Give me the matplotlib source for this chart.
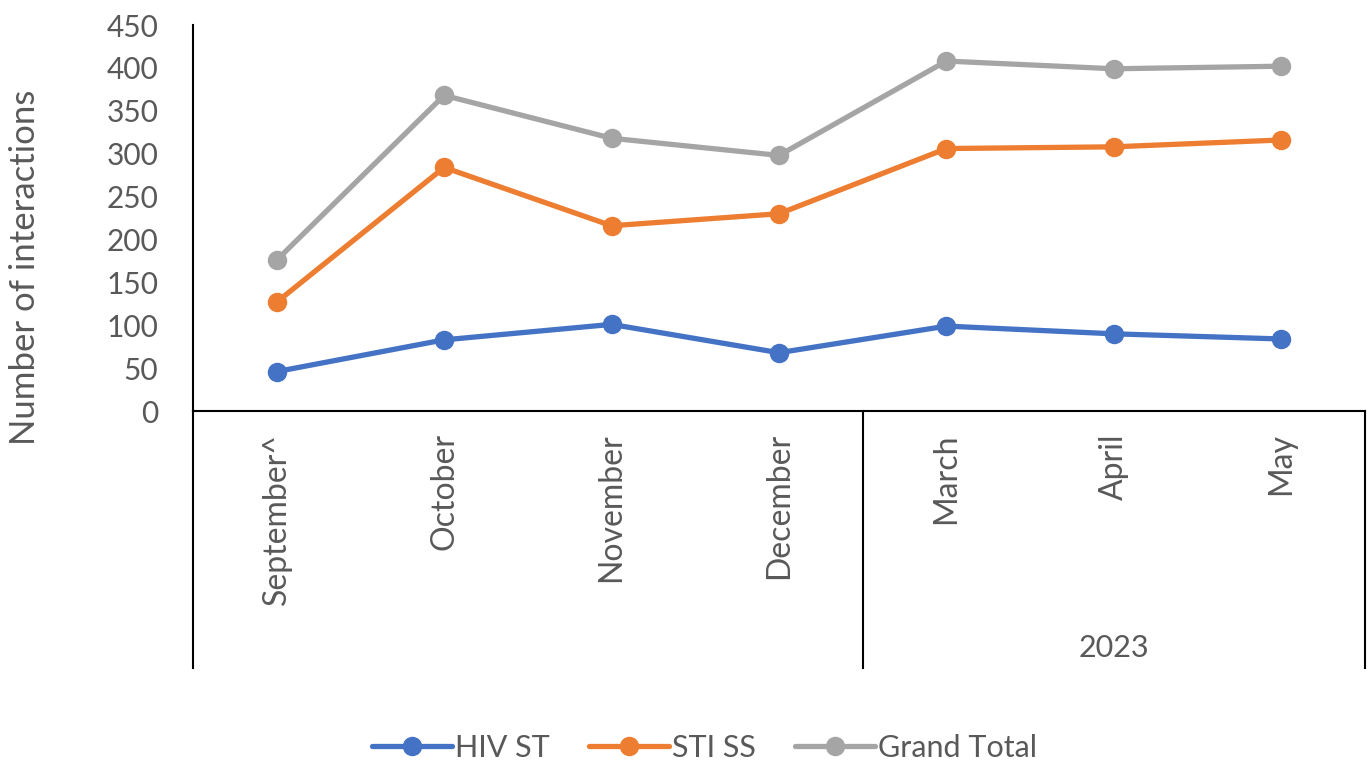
import matplotlib
matplotlib.use("Agg")
import matplotlib.pyplot as plt
from matplotlib.lines import Line2D

plt.rcParams['font.family'] = ['Lato', 'DejaVu Sans']

months = ['September^', 'October', 'November', 'December', 'March', 'April', 'May']
hiv_st = [46, 83, 101, 68, 99, 90, 84]
sti_ss = [127, 284, 216, 230, 306, 308, 316]
grand_total = [176, 368, 318, 298, 408, 399, 402]
year_groups = [('', 0, 3), ('2023', 4, 6)]

colors = {'HIV ST': '#4472C4', 'STI SS': '#ED7D31', 'Grand Total': '#A5A5A5'}
text_col = '#595959'

fig = plt.figure(figsize=(13.68, 7.63), dpi=100)
ax = fig.add_axes([0.1411, 0.4613, 0.8567, 0.5059])

x = list(range(len(months)))
for name, vals in [('HIV ST', hiv_st), ('STI SS', sti_ss), ('Grand Total', grand_total)]:
    ax.plot(x, vals, color=colors[name], lw=3.8, marker='o', ms=13,
            solid_capstyle='round', label=name, clip_on=False, zorder=3)

ax.set_xlim(-0.5, len(months) - 0.5)
ax.set_ylim(0, 450)
ax.set_yticks(range(0, 451, 50))
ax.tick_params(axis='y', length=0, labelsize=21.5, labelcolor=text_col, pad=25)
ax.set_xticks([])
for s in ['top', 'right']:
    ax.spines[s].set_visible(False)
ax.spines['left'].set_linewidth(1.5)
ax.spines['bottom'].set_linewidth(1.5)
ax.set_ylabel('Number of interactions', fontsize=25, color=text_col, va='center')
ax.yaxis.set_label_coords(-0.1433, 0.373)

# month labels
for i, m in enumerate(months):
    ax.text(i, -0.057, m, transform=ax.get_xaxis_transform(), rotation=90,
            ha='center', va='top', fontsize=23, color=text_col)

# category group lines
low = -0.666
trans = ax.get_xaxis_transform()
for xb in [-0.5, 3.5, 6.5]:
    ax.add_line(Line2D([xb, xb], [0, low], transform=trans, color='black',
                       lw=1.5, clip_on=False))
for label, a, b in year_groups:
    if label:
        ax.text((a + b) / 2, -0.614, label, transform=trans, ha='center',
                va='center', fontsize=22, color=text_col)

fig.legend(loc='center', bbox_to_anchor=(0.515, 0.0197), ncol=3, frameon=False,
           fontsize=22, labelcolor=text_col, handlelength=2.6, handletextpad=0.1,
           columnspacing=1.3)

fig.savefig('out.png', dpi=100)
